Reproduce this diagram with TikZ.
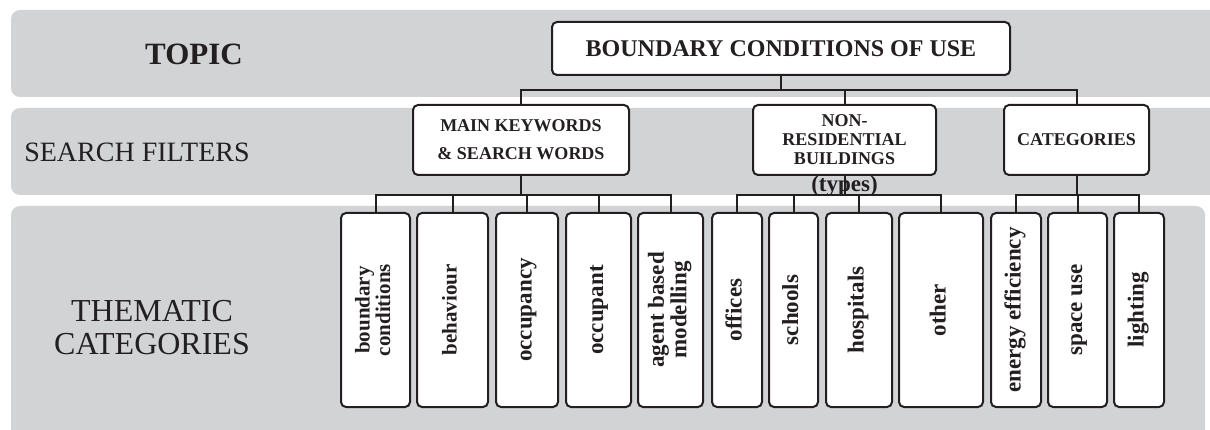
\documentclass[tikz,border=0pt]{standalone}
\usepackage{fontspec}
\setmainfont{Liberation Serif}
\usepackage{graphicx}
\definecolor{bandgray}{RGB}{209,211,212}
\definecolor{ink}{RGB}{35,31,32}
\newcommand\rotlabel[1]{\rotatebox{90}{\begin{tabular}{@{}c@{}}#1\end{tabular}}}
\begin{document}
\begin{tikzpicture}[x=1pt,y=-1pt,
  bandshape/.style={fill=bandgray, draw=none, rounded corners=9pt},
  box/.style={draw=ink, line width=2pt, fill=white, rounded corners=5pt, inner sep=0pt, align=center, text=ink},
  toprow/.style={box, minimum width=458pt, minimum height=53pt, font=\fontsize{24}{26}\selectfont\bfseries},
  l2/.style={box, minimum height=70pt, font=\fontsize{18}{19}\selectfont\bfseries},
  l3/.style={box, minimum height=194pt, font=\fontsize{23}{23}\selectfont\bfseries},
  conn/.style={draw=ink, line width=2pt},
  rowlabel/.style={text=ink, align=center, inner sep=0pt}
]
\useasboundingbox (0,0) rectangle (1210,430);
% bands
\fill[bandshape] (11,10) rectangle (1225,97);
\fill[bandshape] (11,108) rectangle (1225,195);
\fill[bandshape] (11,206) rectangle (1205,445);

% row labels
\node[rowlabel, font=\fontsize{31}{33}\selectfont\bfseries] (lt) at (194,54) {TOPIC};
\node[rowlabel, font=\fontsize{28}{30}\selectfont] (ls) at (137,152) {SEARCH FILTERS};
\node[rowlabel, font=\fontsize{32}{33}\selectfont] (lc) at (152,328) {THEMATIC\\CATEGORIES};

% bus levels
\coordinate (busA) at (0,90);
\coordinate (busB) at (0,195);

% nodes
\node[toprow] (top) at (781,48.5) {BOUNDARY CONDITIONS OF USE};
\node[l2, minimum width=216pt, font=\fontsize{18}{28}\selectfont\bfseries] (kw) at (521,140) {MAIN KEYWORDS\\\& SEARCH WORDS};
\node[l2, minimum width=183pt,
  label={[label distance=-1pt, text=ink, inner sep=0pt, font=\fontsize{23}{23}\selectfont\bfseries]below:(types)}] (nr) at (844.5,140) {NON-\\RESIDENTIAL\\BUILDINGS};
\node[l2, minimum width=145pt] (cat) at (1076.5,140) {CATEGORIES};

\node[l3, minimum width=69pt, font=\fontsize{21}{20}\selectfont\bfseries] (bc) at (375.5,310) {\rotlabel{boundary\\conditions}};
\node[l3, minimum width=71pt, font=\fontsize{21}{21}\selectfont\bfseries] (beh) at (452.5,310) {\rotlabel{behaviour}};
\node[l3, minimum width=62pt] (ocy) at (527,310) {\rotlabel{occupancy}};
\node[l3, minimum width=65pt] (oct) at (598.5,310) {\rotlabel{occupant}};
\node[l3, minimum width=65pt, font=\fontsize{23}{22}\selectfont\bfseries] (abm) at (670.5,310) {\rotlabel{agent based\\modelling}};
\node[l3, minimum width=50pt] (off) at (737,310) {\rotlabel{offices}};
\node[l3, minimum width=49pt] (sch) at (793.5,310) {\rotlabel{schools}};
\node[l3, minimum width=66pt] (hos) at (859,310) {\rotlabel{hospitals}};
\node[l3, minimum width=84pt] (oth) at (941,310) {\rotlabel{other}};
\node[l3, minimum width=50pt] (ee) at (1016,310) {\rotlabel{energy efficiency}};
\node[l3, minimum width=59pt] (su) at (1077.5,310) {\rotlabel{space use}};
\node[l3, minimum width=50pt] (li) at (1139,310) {\rotlabel{lighting}};

% connectors
\draw[conn] (top.south) -- (top.south |- busA);
\foreach \c in {kw,nr,cat}
  \draw[conn] (top.south |- busA) -| (\c.north);
\foreach \c in {bc,beh,ocy,oct,abm}
  \draw[conn] (kw.south) |- (\c.north |- busB) -- (\c.north);
\foreach \c in {off,sch,hos,oth}
  \draw[conn] (nr.south) |- (\c.north |- busB) -- (\c.north);
\foreach \c in {ee,su,li}
  \draw[conn] (cat.south) |- (\c.north |- busB) -- (\c.north);
\end{tikzpicture}
\end{document}
